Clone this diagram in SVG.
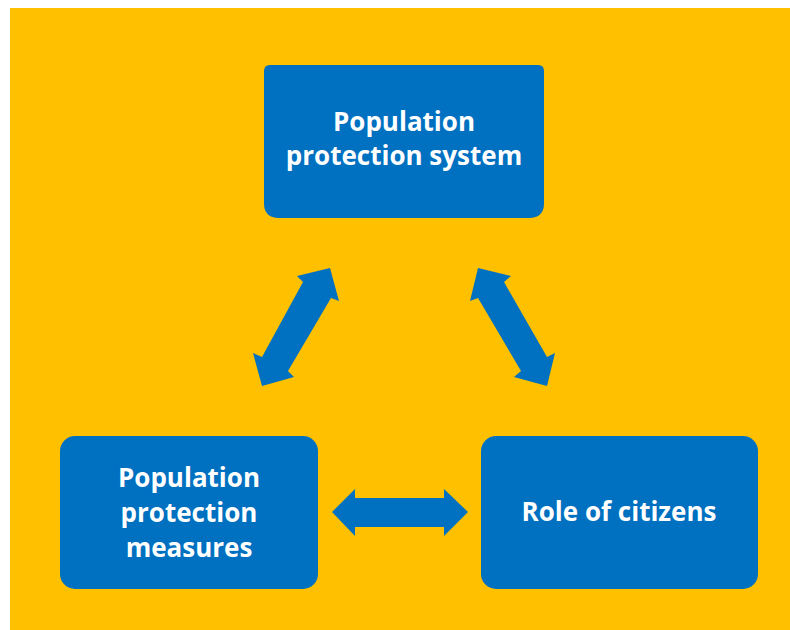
<svg xmlns="http://www.w3.org/2000/svg" width="790" height="630" viewBox="0 0 790 630">
  <style>
    .box { fill: #0070C0; }
    .arrow { fill: #0070C0; }
    .label { fill: #FFFFFF; font-family: "Open Sans", "Liberation Sans", sans-serif; font-weight: 700; font-size: 26px; text-anchor: middle; }
  </style>
  <rect x="0" y="0" width="790" height="630" fill="#FFFFFF"/>
  <rect x="10" y="8" width="780" height="622" fill="#FFC000"/>
  <g id="node-system">
    <path class="box" d="M270,65 H538 Q544,65 544,71 V203 Q544,218 529,218 H279 Q264,218 264,203 V71 Q264,65 270,65 Z"/>
    <text class="label" x="404" y="131">Population</text>
    <text class="label" x="404" y="165">protection system</text>
  </g>
  <g id="node-measures">
    <rect class="box" x="60" y="436" width="258" height="153" rx="15"/>
    <text class="label" x="189" y="487">Population</text>
    <text class="label" x="189" y="522">protection</text>
    <text class="label" x="189" y="557">measures</text>
  </g>
  <g id="node-citizens">
    <rect class="box" x="481" y="436" width="277" height="153" rx="15"/>
    <text class="label" x="619" y="521">Role of citizens</text>
  </g>
  <g id="connectors">
    <polygon class="arrow" points="330,268 339,301 331,298 288,371 294,377 262,386 253,353 262,357 303,282 297,276"/>
    <polygon class="arrow" points="478,268 511,276 504,282 547,357 555,353 547,386 514,377 521,371 478,298 470,301"/>
    <polygon class="arrow" points="332,512 355,489 355,498 444,498 444,489 468,512 444,536 444,527 355,527 355,536"/>
  </g>
</svg>
